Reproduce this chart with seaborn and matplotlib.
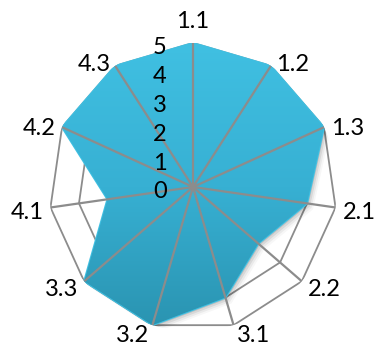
import numpy as np
import matplotlib
matplotlib.use("Agg")
import matplotlib.pyplot as plt
import matplotlib.transforms as mtransforms
from matplotlib.colors import LinearSegmentedColormap
import seaborn as sns

# Radar data: one score per criterion
categories = ["1.1", "1.2", "1.3", "2.1", "2.2", "3.1", "3.2", "3.3", "4.1", "4.2", "4.3"]
scores = [5, 5, 5, 4, 3, 4, 5, 5, 3, 5, 5]
ring_levels = [1, 2, 3, 4, 5]
radial_ticks = [0, 1, 2, 3, 4, 5]

sns.set_theme(style="white")
plt.rcParams["font.family"] = ["Lato", "DejaVu Sans"]

grid_color = "#8C8C8C"
fill_top = "#40C0E2"
fill_bottom = "#2A93B0"

n = len(categories)
angles = np.linspace(0, 2 * np.pi, n, endpoint=False)
theta_closed = np.append(angles, angles[0])
values_closed = np.append(scores, scores[0])

fig = plt.figure(figsize=(3.77, 3.43), dpi=100)
ax = fig.add_axes([49 / 377, 12 / 343, 288 / 377, 288 / 343], projection="polar")
ax.set_theta_zero_location("N")
ax.set_theta_direction(-1)
ax.set_axis_off()

# polygonal rings
for lvl in ring_levels:
    ax.plot(theta_closed, [lvl] * (n + 1), color=grid_color, lw=1.3, zorder=1)

# soft drop shadow under the filled area
for off, a in [(1.5, 0.10), (3.0, 0.07), (4.5, 0.05), (6.0, 0.03)]:
    tr = mtransforms.offset_copy(ax.transData, fig=fig, x=off, y=-off, units="dots")
    ax.fill(theta_closed, values_closed, color="black", alpha=a, lw=0,
            transform=tr, zorder=2)

# filled series with vertical gradient
patch = ax.fill(theta_closed, values_closed, color=fill_top, lw=1.5,
                ec=fill_top, joinstyle="round", zorder=3)[0]
cmap = LinearSegmentedColormap.from_list("fillgrad", [fill_top, "#37B0D3", fill_bottom])
grad = np.linspace(0, 1, 256).reshape(-1, 1)
im = ax.imshow(grad, extent=(0, 1, 0, 1), transform=ax.transAxes, cmap=cmap,
               aspect="auto", origin="upper", zorder=3.5, interpolation="bilinear")
im.set_clip_path(patch)

# spokes drawn over the fill
for th in angles:
    ax.plot([th, th], [0, 5], color=grid_color, lw=1.6, zorder=4,
            solid_capstyle="butt")

ax.set_xlim(0, 2 * np.pi)
ax.set_ylim(0, 5)

# category labels around the outer ring
for th, lab in zip(angles, categories):
    sx, cy = np.sin(th), np.cos(th)
    if abs(sx) < 0.05:
        ax.annotate(lab, xy=(th, 5), xytext=(0, 15), textcoords="offset pixels",
                    ha="center", va="baseline", fontsize=17, color="black",
                    zorder=6)
    else:
        gap = 2 + 5 * abs(sx)
        ax.annotate(lab, xy=(th, 5), xytext=(np.sign(sx) * gap, 6.2 * cy - 2.3),
                    textcoords="offset pixels", ha="left" if sx > 0 else "right",
                    va="center_baseline", fontsize=17, color="black", zorder=6)

# radial value labels beside the first axis
for r in radial_ticks:
    ax.annotate(str(r), xy=(0, r), xytext=(-33, -3), textcoords="offset pixels",
                ha="center", va="center_baseline", fontsize=17, color="black",
                zorder=6)

fig.savefig("out.png", dpi=100)
